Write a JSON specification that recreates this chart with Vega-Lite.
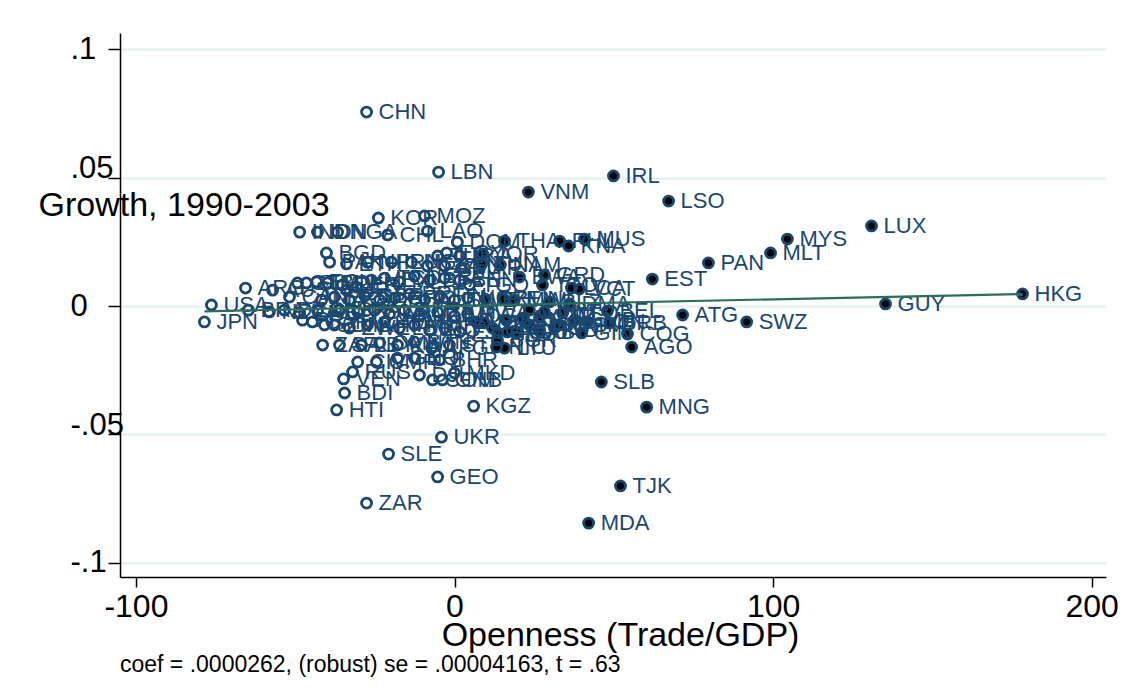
{
  "$schema": "https://vega.github.io/schema/vega-lite/v6.json",
  "width": 986,
  "height": 544,
  "autosize": "none",
  "padding": {"left": 120, "top": 33, "right": 19, "bottom": 115},
  "background": "white",
  "config": {"view": {"stroke": null}, "font": "Liberation Sans"},
  "title": {
    "text": "coef = .0000262, (robust) se = .00004163, t = .63",
    "orient": "bottom",
    "anchor": "start",
    "frame": "group",
    "fontSize": 23,
    "font": "Liberation Sans",
    "fontWeight": "normal",
    "color": "black",
    "offset": 2
  },
  "datasets": {
    "pts": [
      {"c": "CHN", "x": -27.6, "y": 0.0756, "g": 0},
      {"c": "LBN", "x": -5.0, "y": 0.0522, "g": 0},
      {"c": "KOR", "x": -23.9, "y": 0.0343, "g": 0},
      {"c": "MOZ", "x": -9.4, "y": 0.0351, "g": 0},
      {"c": "IND", "x": -48.6, "y": 0.0288, "g": 0},
      {"c": "IDN", "x": -43.0, "y": 0.0288, "g": 0},
      {"c": "NGA", "x": -36.7, "y": 0.0288, "g": 0},
      {"c": "CHL", "x": -21.0, "y": 0.0277, "g": 0},
      {"c": "LAO", "x": -8.5, "y": 0.0292, "g": 0},
      {"c": "DOM", "x": 0.9, "y": 0.0249, "g": 0},
      {"c": "EGY", "x": -2.5, "y": 0.0207, "g": 0},
      {"c": "TUR", "x": -5.3, "y": 0.0195, "g": 0},
      {"c": "LKA", "x": 1.6, "y": 0.0195, "g": 0},
      {"c": "BGD", "x": -40.2, "y": 0.0207, "g": 0},
      {"c": "PAK", "x": -39.2, "y": 0.0171, "g": 0},
      {"c": "ETH", "x": -33.9, "y": 0.0164, "g": 0},
      {"c": "NPL", "x": -27.3, "y": 0.0171, "g": 0},
      {"c": "IRN", "x": -19.8, "y": 0.0171, "g": 0},
      {"c": "UGA", "x": -13.5, "y": 0.0171, "g": 0},
      {"c": "TZA", "x": -8.5, "y": 0.0156, "g": 0},
      {"c": "KEN", "x": -3.1, "y": 0.0156, "g": 0},
      {"c": "MAR", "x": 2.2, "y": 0.0148, "g": 0},
      {"c": "AUS", "x": -57.1, "y": 0.0062, "g": 0},
      {"c": "GTM", "x": -49.3, "y": 0.009, "g": 0},
      {"c": "SLV", "x": -46.5, "y": 0.009, "g": 0},
      {"c": "ECU", "x": -43.3, "y": 0.0094, "g": 0},
      {"c": "BOL", "x": -39.9, "y": 0.009, "g": 0},
      {"c": "PER", "x": -35.2, "y": 0.0082, "g": 0},
      {"c": "COL", "x": -30.8, "y": 0.0074, "g": 0},
      {"c": "MEX", "x": -26.1, "y": 0.0101, "g": 0},
      {"c": "TCD", "x": -22.0, "y": 0.0109, "g": 0},
      {"c": "MLI", "x": -17.3, "y": 0.0094, "g": 0},
      {"c": "NER", "x": -12.6, "y": 0.0117, "g": 0},
      {"c": "BFA", "x": -7.8, "y": 0.0101, "g": 0},
      {"c": "SEN", "x": -3.1, "y": 0.0109, "g": 0},
      {"c": "BEN", "x": 1.6, "y": 0.0101, "g": 0},
      {"c": "TGO", "x": 4.7, "y": 0.0082, "g": 0},
      {"c": "URY", "x": -33.9, "y": 0.0062, "g": 0},
      {"c": "CAN", "x": -51.8, "y": 0.0035, "g": 0},
      {"c": "ITA", "x": -41.7, "y": 0.0023, "g": 0},
      {"c": "FRA", "x": -37.7, "y": 0.0035, "g": 0},
      {"c": "ESP", "x": -33.0, "y": 0.0023, "g": 0},
      {"c": "GBR", "x": -28.2, "y": 0.0039, "g": 0},
      {"c": "DEU", "x": -23.5, "y": 0.0023, "g": 0},
      {"c": "GRC", "x": -18.8, "y": 0.0031, "g": 0},
      {"c": "PRT", "x": -14.1, "y": 0.0047, "g": 0},
      {"c": "AUT", "x": -9.4, "y": 0.0023, "g": 0},
      {"c": "FIN", "x": -4.7, "y": 0.0039, "g": 0},
      {"c": "SWE", "x": 0.0, "y": 0.0023, "g": 0},
      {"c": "NOR", "x": 4.1, "y": 0.0031, "g": 0},
      {"c": "NZL", "x": -58.1, "y": -0.0023, "g": 0},
      {"c": "DZA", "x": -53.4, "y": -0.0016, "g": 0},
      {"c": "CHE", "x": -48.6, "y": -0.0027, "g": 0},
      {"c": "DNK", "x": -43.0, "y": -0.0016, "g": 0},
      {"c": "ISR", "x": -36.1, "y": -0.0016, "g": 0},
      {"c": "POL", "x": -30.4, "y": -0.0023, "g": 0},
      {"c": "ALB", "x": -25.1, "y": -0.0016, "g": 0},
      {"c": "ARM", "x": -20.4, "y": -0.0031, "g": 0},
      {"c": "AZE", "x": -15.7, "y": -0.0016, "g": 0},
      {"c": "UZB", "x": -11.0, "y": -0.0035, "g": 0},
      {"c": "TKM", "x": -5.3, "y": -0.0023, "g": 0},
      {"c": "MDG", "x": 0.0, "y": -0.0039, "g": 0},
      {"c": "RWA", "x": 4.1, "y": -0.0031, "g": 0},
      {"c": "PRY", "x": -47.7, "y": -0.0055, "g": 0},
      {"c": "CAF", "x": -44.6, "y": -0.0062, "g": 0},
      {"c": "SDN", "x": -40.8, "y": -0.0074, "g": 0},
      {"c": "ZMB", "x": -37.7, "y": -0.0074, "g": 0},
      {"c": "ZWE", "x": -33.0, "y": -0.0086, "g": 0},
      {"c": "KHM", "x": -27.3, "y": -0.0074, "g": 0},
      {"c": "YEM", "x": -22.0, "y": -0.0062, "g": 0},
      {"c": "LBR", "x": -17.3, "y": -0.0086, "g": 0},
      {"c": "MMR", "x": -12.6, "y": -0.0074, "g": 0},
      {"c": "IRQ", "x": -7.8, "y": -0.0094, "g": 0},
      {"c": "CPV", "x": -3.1, "y": -0.0086, "g": 0},
      {"c": "FJI", "x": 1.6, "y": -0.0101, "g": 0},
      {"c": "ZAF", "x": -41.4, "y": -0.0152, "g": 0},
      {"c": "SAU", "x": -36.1, "y": -0.0152, "g": 0},
      {"c": "LBY", "x": -29.2, "y": -0.0152, "g": 0},
      {"c": "OMN", "x": -23.5, "y": -0.0144, "g": 0},
      {"c": "KWT", "x": -17.9, "y": -0.0152, "g": 0},
      {"c": "BTN", "x": -12.6, "y": -0.014, "g": 0},
      {"c": "AFG", "x": -7.2, "y": -0.0164, "g": 0},
      {"c": "STP", "x": -1.6, "y": -0.0152, "g": 0},
      {"c": "CIV", "x": -30.4, "y": -0.0218, "g": 0},
      {"c": "CMR", "x": -24.5, "y": -0.0218, "g": 0},
      {"c": "GNQ", "x": -17.9, "y": -0.0203, "g": 0},
      {"c": "ERI", "x": -12.6, "y": -0.0203, "g": 0},
      {"c": "BHR", "x": -4.7, "y": -0.021, "g": 0},
      {"c": "RUS", "x": -32.0, "y": -0.0257, "g": 0},
      {"c": "VEN", "x": -34.8, "y": -0.0284, "g": 0},
      {"c": "DJI", "x": -11.0, "y": -0.0269, "g": 0},
      {"c": "COM", "x": -6.9, "y": -0.0288, "g": 0},
      {"c": "GNB", "x": -3.8, "y": -0.0288, "g": 0},
      {"c": "MKD", "x": 0.0, "y": -0.0261, "g": 0},
      {"c": "BDI", "x": -34.5, "y": -0.0339, "g": 0},
      {"c": "HTI", "x": -37.0, "y": -0.0405, "g": 0},
      {"c": "KGZ", "x": 6.0, "y": -0.039, "g": 0},
      {"c": "UKR", "x": -4.1, "y": -0.0511, "g": 0},
      {"c": "SLE", "x": -20.7, "y": -0.0577, "g": 0},
      {"c": "GEO", "x": -5.3, "y": -0.0666, "g": 0},
      {"c": "ZAR", "x": -27.6, "y": -0.0768, "g": 0},
      {"c": "USA", "x": -76.3, "y": 0.0004, "g": 0},
      {"c": "JPN", "x": -78.5, "y": -0.0062, "g": 0},
      {"c": "ARG", "x": -65.6, "y": 0.007, "g": 0},
      {"c": "BRA", "x": -64.7, "y": -0.0016, "g": 0},
      {"c": "IRL", "x": 49.9, "y": 0.0507, "g": 1},
      {"c": "VNM", "x": 23.2, "y": 0.0444, "g": 1},
      {"c": "LSO", "x": 67.2, "y": 0.0409, "g": 1},
      {"c": "LUX", "x": 130.9, "y": 0.0312, "g": 1},
      {"c": "MYS", "x": 104.5, "y": 0.0261, "g": 1},
      {"c": "MLT", "x": 99.2, "y": 0.0207, "g": 1},
      {"c": "PAN", "x": 79.7, "y": 0.0168, "g": 1},
      {"c": "EST", "x": 62.1, "y": 0.0105, "g": 1},
      {"c": "HKG", "x": 178.3, "y": 0.0047, "g": 1},
      {"c": "GUY", "x": 135.3, "y": 0.0008, "g": 1},
      {"c": "ATG", "x": 71.6, "y": -0.0035, "g": 1},
      {"c": "SWZ", "x": 91.7, "y": -0.0062, "g": 1},
      {"c": "AGO", "x": 55.6, "y": -0.016, "g": 1},
      {"c": "SLB", "x": 46.1, "y": -0.0296, "g": 1},
      {"c": "MNG", "x": 60.3, "y": -0.0394, "g": 1},
      {"c": "TJK", "x": 52.1, "y": -0.0701, "g": 1},
      {"c": "MDA", "x": 42.1, "y": -0.0846, "g": 1},
      {"c": "MUS", "x": 40.8, "y": 0.0261, "g": 1},
      {"c": "KNA", "x": 35.8, "y": 0.0234, "g": 1},
      {"c": "PHL", "x": 33.0, "y": 0.0253, "g": 1},
      {"c": "THA", "x": 15.7, "y": 0.0253, "g": 1},
      {"c": "JOR", "x": 8.8, "y": 0.0203, "g": 1},
      {"c": "TUN", "x": 8.5, "y": 0.0164, "g": 1},
      {"c": "NAM", "x": 14.4, "y": 0.016, "g": 1},
      {"c": "GRD", "x": 28.2, "y": 0.0121, "g": 1},
      {"c": "BWA", "x": 20.4, "y": 0.0113, "g": 1},
      {"c": "VCT", "x": 39.2, "y": 0.0066, "g": 1},
      {"c": "LCA", "x": 36.7, "y": 0.007, "g": 1},
      {"c": "TTO", "x": 27.6, "y": 0.0082, "g": 1},
      {"c": "CZE", "x": 9.7, "y": 0.0027, "g": 1},
      {"c": "HUN", "x": 15.4, "y": 0.0027, "g": 1},
      {"c": "DMA", "x": 36.1, "y": 0.0008, "g": 1},
      {"c": "BLZ", "x": 29.8, "y": 0.0016, "g": 1},
      {"c": "BEL", "x": 48.0, "y": -0.0019, "g": 1},
      {"c": "NLD", "x": 33.9, "y": -0.0027, "g": 1},
      {"c": "BRB", "x": 48.7, "y": -0.0066, "g": 1},
      {"c": "GIN", "x": 39.9, "y": -0.0105, "g": 1},
      {"c": "COG", "x": 54.3, "y": -0.0109, "g": 1},
      {"c": "GMB", "x": 37.7, "y": -0.0055, "g": 1},
      {"c": "TON", "x": 41.7, "y": -0.0062, "g": 1},
      {"c": "LVA", "x": 6.9, "y": -0.0062, "g": 1},
      {"c": "LTU", "x": 15.7, "y": -0.0164, "g": 1},
      {"c": "SVK", "x": 9.4, "y": -0.0066, "g": 1},
      {"c": "SVN", "x": 16.3, "y": -0.0055, "g": 1},
      {"c": "KAZ", "x": 21.3, "y": -0.0047, "g": 1},
      {"c": "BLR", "x": 11.9, "y": -0.0086, "g": 1},
      {"c": "HRV", "x": 13.5, "y": -0.0105, "g": 1},
      {"c": "BGR", "x": 13.5, "y": -0.0133, "g": 1},
      {"c": "ROU", "x": 16.6, "y": -0.0101, "g": 1},
      {"c": "GAB", "x": 19.5, "y": -0.0101, "g": 1},
      {"c": "NIC", "x": 13.2, "y": -0.016, "g": 1},
      {"c": "PNG", "x": 23.5, "y": -0.0074, "g": 1},
      {"c": "HND", "x": 26.7, "y": -0.0094, "g": 1},
      {"c": "CRI", "x": 31.4, "y": -0.0086, "g": 1},
      {"c": "JAM", "x": 26.7, "y": -0.0043, "g": 1},
      {"c": "CYP", "x": 23.5, "y": -0.0016, "g": 1},
      {"c": "VUT", "x": 28.2, "y": -0.0023, "g": 1},
      {"c": "WSM", "x": 33.0, "y": -0.0074, "g": 1},
      {"c": "MWI", "x": 18.8, "y": 0.0023, "g": 1}
    ],
    "fit": [
      {"x": -78.5, "y": -0.00206},
      {"x": 178.3, "y": 0.00467}
    ]
  },
  "encoding": {
    "x": {
      "field": "x",
      "type": "quantitative",
      "scale": {"domain": [-105, 204.5], "nice": false, "zero": false},
      "axis": {
        "values": [-100, 0, 100, 200],
        "labelExpr": "'' + datum.value",
        "title": "Openness (Trade/GDP)",
        "titleFont": "Liberation Sans",
        "titleFontSize": 34,
        "titleFontWeight": "normal",
        "titleColor": "black",
        "titleX": 500,
        "titleY": 68,
        "titleAlign": "center",
        "titleBaseline": "alphabetic",
        "labelFont": "Liberation Sans",
        "labelFontSize": 32,
        "labelColor": "black",
        "labelPadding": 4,
        "labelFlush": false,
        "labelOverlap": false,
        "tickColor": "black",
        "tickSize": 10,
        "tickWidth": 1.5,
        "domainColor": "black",
        "domainWidth": 1.5,
        "grid": false
      }
    },
    "y": {
      "field": "y",
      "type": "quantitative",
      "scale": {"domain": [-0.1056, 0.1064], "nice": false, "zero": false},
      "axis": {
        "values": [-0.1, -0.05, 0, 0.05, 0.1],
        "labelExpr": "datum.value > 0.075 ? '.1' : datum.value > 0.025 ? '.05' : datum.value > -0.025 ? '0' : datum.value > -0.075 ? '-.05' : '-.1'",
        "title": "Growth, 1990-2003",
        "titleAngle": 0,
        "titleFont": "Liberation Sans",
        "titleFontSize": 34,
        "titleFontWeight": "normal",
        "titleColor": "black",
        "titleX": -82,
        "titleY": 172,
        "titleAlign": "left",
        "titleBaseline": "middle",
        "labelFont": "Liberation Sans",
        "labelFontSize": 31,
        "labelColor": "black",
        "labelAlign": "left",
        "labelBaseline": "middle",
        "labelPadding": 38,
        "labelFlush": false,
        "labelOverlap": false,
        "labelOffset": {"condition": {"test": "abs(datum.value) > 0.03 && abs(datum.value) < 0.07", "value": -9}, "value": 0},
        "tickColor": "black",
        "tickSize": 12,
        "tickWidth": 1.5,
        "domainColor": "black",
        "domainWidth": 1.5,
        "grid": true,
        "gridColor": "#e4edef",
        "gridWidth": 2
      }
    }
  },
  "layer": [
    {
      "data": {"name": "pts"},
      "transform": [{"filter": "datum.g == 0"}],
      "mark": {"type": "point", "shape": "circle", "filled": false, "stroke": "#1a476f", "strokeWidth": 2.8, "size": 100, "opacity": 1}
    },
    {
      "data": {"name": "pts"},
      "transform": [{"filter": "datum.g == 1"}],
      "mark": {"type": "point", "shape": "circle", "filled": true, "fill": "black", "stroke": "#1a476f", "strokeWidth": 2.8, "size": 100, "opacity": 1}
    },
    {
      "data": {"name": "pts"},
      "mark": {"type": "text", "align": "left", "baseline": "middle", "dx": 12, "fontSize": 22, "font": "Liberation Sans", "color": "#1a476f"},
      "encoding": {"text": {"field": "c", "type": "nominal"}}
    },
    {
      "data": {"name": "fit"},
      "mark": {"type": "line", "color": "#2d6e5b", "strokeWidth": 2.2},
      "encoding": {}
    }
  ]
}
